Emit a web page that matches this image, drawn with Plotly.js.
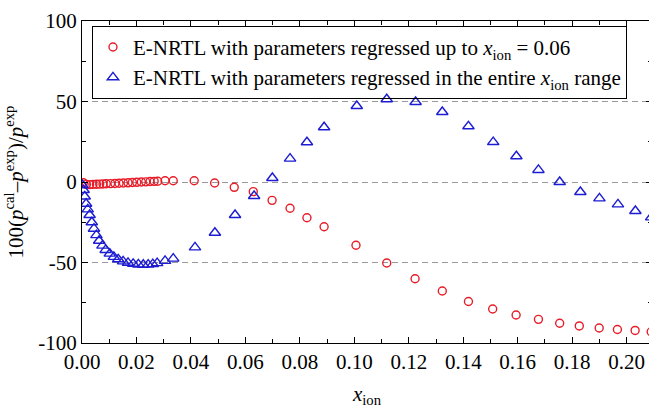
<!DOCTYPE html>
<html>
<head>
<meta charset="utf-8">
<script src="https://cdn.plot.ly/plotly-3.0.1.min.js"></script>
<style>
html,body{margin:0;padding:0;overflow:hidden;background:#fff;}
#chart{width:652px;height:408px;}
</style>
</head>
<body>
<div id="chart"></div>
<script>
// E-NRTL with parameters regressed up to x_ion = 0.06
const xRed = [0.0005, 0.0016, 0.0028, 0.0040, 0.0053, 0.0065, 0.0077, 0.0089, 0.0105, 0.0121,
  0.0136, 0.0152, 0.0169, 0.0185, 0.0201, 0.0218, 0.0234, 0.0250, 0.0265, 0.0278,
  0.0305, 0.0335, 0.0412, 0.0487, 0.0559, 0.0629, 0.0698, 0.0764, 0.0826, 0.0889,
  0.1006, 0.1119, 0.1223, 0.1323, 0.1419, 0.1508, 0.1594, 0.1676, 0.1754, 0.1826,
  0.1899, 0.1966, 0.2031, 0.2090];
const yRed = [-0.5, -1.5, -1.6, -1.5, -1.4, -1.3, -1.2, -1.1, -1.0, -0.9,
  -0.8, -0.6, -0.5, -0.3, -0.2, 0.0, 0.1, 0.3, 0.4, 0.5,
  0.8, 0.8, 0.8, -0.6, -3.3, -6.0, -11.4, -16.3, -22.2, -27.8,
  -39.3, -50.3, -60.1, -67.7, -74.2, -78.9, -82.6, -85.3, -87.7, -89.4,
  -90.7, -91.6, -92.2, -93.0];

// E-NRTL with parameters regressed in the entire x_ion range
const xBlue = [0.0002, 0.0006, 0.0010, 0.0015, 0.0021, 0.0028, 0.0036, 0.0044, 0.0053, 0.0063,
  0.0075, 0.0087, 0.0102, 0.0117, 0.0133, 0.0151, 0.0169, 0.0188, 0.0207, 0.0225,
  0.0243, 0.0260, 0.0276, 0.0305, 0.0335, 0.0415, 0.0488, 0.0562, 0.0632, 0.0699,
  0.0764, 0.0826, 0.0889, 0.1009, 0.1119, 0.1225, 0.1323, 0.1419, 0.1510, 0.1595,
  0.1676, 0.1754, 0.1830, 0.1900, 0.1968, 0.2032, 0.2090];
const yBlue = [-2.0, -5.0, -9.0, -13.5, -17.0, -20.5, -25.0, -29.0, -33.0, -36.5,
  -39.5, -42.2, -44.5, -46.5, -48.0, -49.3, -50.2, -50.8, -51.2, -51.4,
  -51.3, -51.0, -50.4, -49.0, -47.6, -40.6, -31.5, -20.5, -8.7, 2.5,
  14.5, 24.7, 34.0, 47.2, 51.4, 49.7, 43.5, 34.6, 24.8, 16.0,
  7.5, 0.0, -6.2, -10.2, -13.9, -18.0, -22.0];

const seriesNames = [
  'E-NRTL with parameters regressed up to <i>x</i><sub>ion</sub> = 0.06',
  'E-NRTL with parameters regressed in the entire <i>x</i><sub>ion</sub> range'
];
const yTickVals = [-100, -50, 0, 50, 100];
const yTickText = ['-100', '-50', '0', '50', '100'];

const FONT = 'Liberation Serif';
const red = 'rgb(232,28,40)';
const blue = 'rgb(28,28,210)';

const traces = [
  {x: xRed, y: yRed, name: seriesNames[0], mode: 'markers', type: 'scatter',
   marker: {symbol: 'circle-open', size: 8, color: red, line: {width: 1.4, color: red}}},
  {x: xBlue, y: yBlue, name: seriesNames[1], mode: 'markers', type: 'scatter',
   marker: {symbol: 'triangle-up-open', size: 10, color: blue, line: {width: 1.4, color: blue}}}
];

const layout = {
  width: 652, height: 408,
  margin: {l: 82, r: 0, t: 21, b: 65},
  paper_bgcolor: '#fff', plot_bgcolor: '#fff',
  font: {family: FONT, size: 21, color: '#000'},
  showlegend: true,
  legend: {x: 0.0175, y: 0.985, xanchor: 'left', yanchor: 'top',
    bgcolor: 'rgba(255,255,255,0)', bordercolor: '#000', borderwidth: 1,
    font: {family: FONT, size: 21, color: '#000'}},
  xaxis: {
    range: [0, 0.2093], tickmode: 'linear', tick0: 0, dtick: 0.02, tickformat: '.2f',
    ticks: 'inside', ticklen: 6, tickwidth: 1.2, tickcolor: '#000',
    minor: {tickmode: 'linear', tick0: 0, dtick: 0.01, ticks: 'inside', ticklen: 4, tickcolor: '#000', showgrid: false},
    showline: true, linecolor: '#000', linewidth: 1.3, mirror: 'allticks',
    showgrid: false, zeroline: false,
    tickfont: {family: FONT, size: 21, color: '#000'},
    title: {text: '<i>x</i><sub>ion</sub>', font: {family: FONT, size: 21, color: '#000'}, standoff: 18}
  },
  yaxis: {
    range: [-100, 100], tickmode: 'array', tickvals: yTickVals, ticktext: yTickText,
    ticks: 'inside', ticklen: 6, tickwidth: 1.2, tickcolor: '#000',
    minor: {tickmode: 'linear', tick0: 0, dtick: 25, ticks: 'inside', ticklen: 4, tickcolor: '#000', showgrid: false},
    showline: true, linecolor: '#000', linewidth: 1.3, mirror: 'allticks',
    showgrid: true, gridcolor: '#9a9a9a', gridwidth: 1.3, griddash: '6px,4px',
    zeroline: false,
    tickfont: {family: FONT, size: 21, color: '#000'},
    title: {text: '100(<i>p</i><sup>cal</sup>\u2013<i>p</i><sup>exp</sup>)/<i>p</i><sup>exp</sup>',
      font: {family: FONT, size: 21, color: '#000'}, standoff: 8}
  }
};

Plotly.newPlot('chart', traces, layout, {displayModeBar: false});
</script>
</body>
</html>
